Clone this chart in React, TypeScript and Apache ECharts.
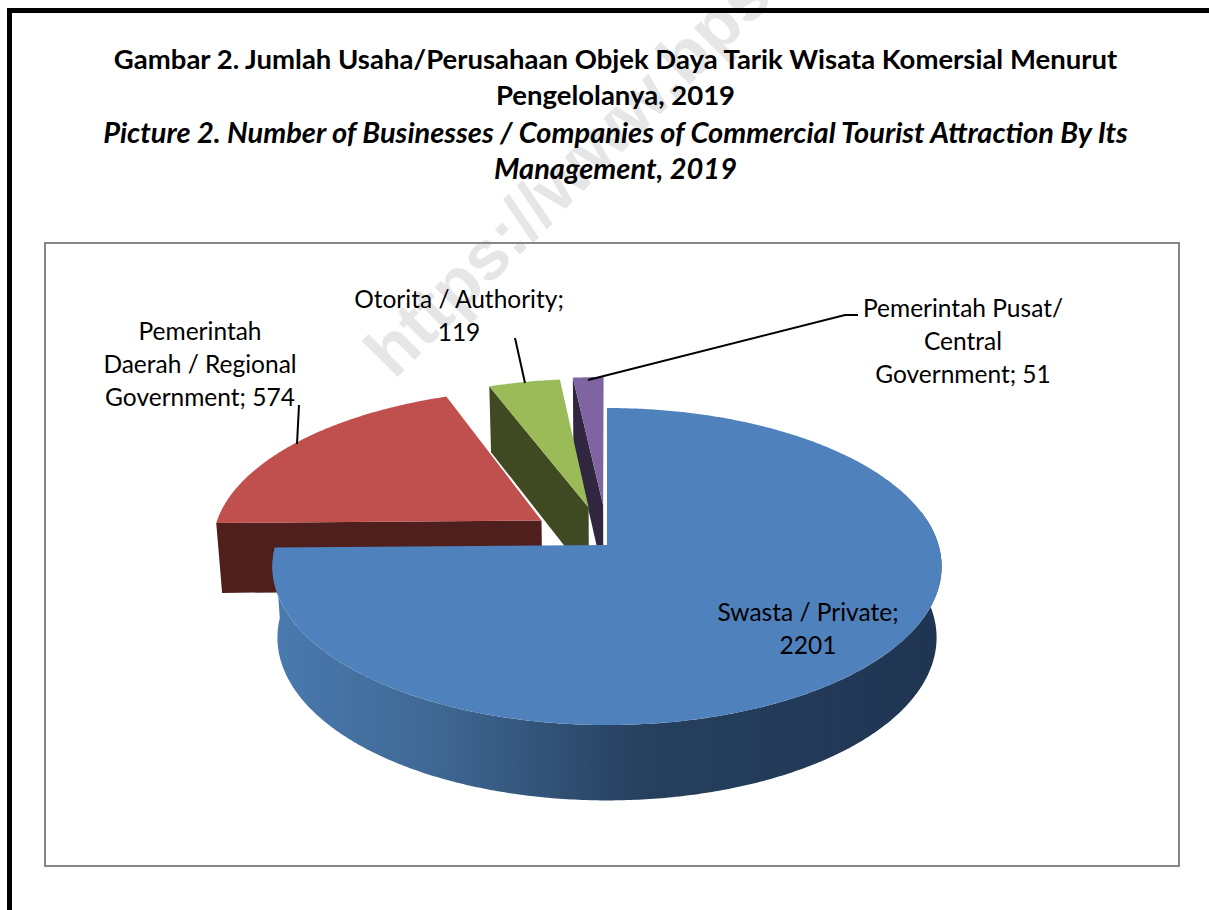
import React, { useEffect, useRef } from "react";
import * as echarts from "echarts";

const categories = ["Swasta / Private", "Pemerintah Daerah / Regional Government", "Otorita / Authority", "Pemerintah Pusat/ Central Government"];
const values = [2201, 574, 119, 51];
const labelTemplates = [
  "Swasta / Private;\n{v}",
  "Pemerintah\nDaerah / Regional\nGovernment; {v}",
  "Otorita / Authority;\n{v}",
  "Pemerintah Pusat/\nCentral\nGovernment; {v}",
];
const topColors = ["#4f81bd", "#c0504d", "#9bbb59", "#8064a2"];
const sideColors = ["#1f3552", "#4f1f1e", "#3f4a22", "#30263f"];
const explodeAmounts = [0, 0.258, 0.255, 0.265];
const explodeBearings = [0, 308.5, 347, 357.4];
const titleLines = [
  "Gambar 2. Jumlah Usaha/Perusahaan Objek Daya Tarik Wisata Komersial Menurut",
  "Pengelolanya, 2019",
  "Picture 2. Number of Businesses / Companies of Commercial Tourist Attraction By Its",
  "Management, 2019",
];
const titleTops = [44, 80, 117, 153];

// Perspective parameters of the tilted disc
const APEX_X = 607;
const APEX_Y = 545;
const RX = 331.5;
const RY = 155.6;
const PERSPECTIVE = 0.1357;
const DEPTH = 70.5;
const DEPTH_FALLOFF = 0.7;
const BASE_SCALE = 0.985;

// Where each label sits and how its leader line runs
const labelCentres = [
  { x: 808, y: 595 },
  { x: 200, y: 314 },
  { x: 459, y: 282 },
  { x: 963, y: 291 },
];
const leaderLines: number[][][] = [
  [],
  [[299, 405], [297, 444]],
  [[515, 338], [525, 383]],
  [[858, 315], [845, 315], [588, 380]],
];

const FONT = "Lato, Carlito, Calibri, sans-serif";
const LABEL_SIZE = 24.5;
const total = values.reduce((a, b) => a + b, 0);
const cumulative = values.map((_, i) => values.slice(0, i).reduce((a, b) => a + b, 0));
const toAngle = (v: number) => (v / total) * Math.PI * 2;

function project(theta: number, explode: number, bearing: number, base: boolean): number[] {
  const u = Math.sin(theta) + explode * Math.sin(bearing);
  const v = -Math.cos(theta) - explode * Math.cos(bearing);
  return projectPlane(u, v, base);
}

function projectPlane(u: number, v: number, base: boolean): number[] {
  const s = 1 / (1 - PERSPECTIVE * v);
  const k = base ? BASE_SCALE : 1;
  const drop = base ? DEPTH * Math.pow(s, DEPTH_FALLOFF) : 0;
  return [APEX_X + RX * u * s * k, APEX_Y + drop + RY * v * s * k];
}

function arc(from: number, to: number, explode: number, bearing: number, base: boolean): number[][] {
  const n = Math.max(2, Math.ceil(Math.abs(to - from) / 0.01));
  const out: number[][] = [];
  for (let i = 0; i <= n; i++) out.push(project(from + ((to - from) * i) / n, explode, bearing, base));
  return out;
}

function renderSlice(_params: any, api: any) {
  const i = api.value(0) as number;
  const start = toAngle(cumulative[i]);
  const end = toAngle(cumulative[i] + (api.value(1) as number));
  const b = (explodeBearings[i] * Math.PI) / 180;
  const e = explodeAmounts[i];
  const apexTop = projectPlane(e * Math.sin(b), -e * Math.cos(b), false);
  const apexBase = projectPlane(e * Math.sin(b), -e * Math.cos(b), true);
  const children: any[] = [];

  if (i === 0) {
    // Rim of the large front slice, lit from the left
    const from = 1.35;
    const rim = [...arc(from, end, 0, b, false), ...arc(end, from, 0, b, true)];
    children.push({
      type: "polygon",
      shape: { points: rim },
      style: {
        fill: new echarts.graphic.LinearGradient(0, 0, 1, 0, [
          { offset: 0, color: "#4a7ab0" },
          { offset: 0.25, color: "#3f6792" },
          { offset: 0.55, color: "#26405f" },
          { offset: 1, color: sideColors[0] },
        ]),
      },
    });
  } else {
    // Cut face along the slice's leading edge
    const edgeTop = project(start, e, b, false);
    const edgeBase = project(start, e, b, true);
    children.push({
      type: "polygon",
      shape: { points: [edgeTop, apexTop, apexBase, edgeBase] },
      style: { fill: sideColors[i] },
    });
  }

  children.push({
    type: "polygon",
    shape: { points: [apexTop, ...arc(start, end, e, b, false)] },
    style: { fill: topColors[i] },
  });

  return { type: "group", children };
}

function renderLabel(_params: any, api: any) {
  const i = api.value(0) as number;
  const children: any[] = [];
  if (leaderLines[i].length) {
    children.push({
      type: "polyline",
      shape: { points: leaderLines[i] },
      style: { stroke: "#000000", lineWidth: 2, fill: "none" },
    });
  }
  children.push({
    type: "text",
    x: labelCentres[i].x,
    y: labelCentres[i].y,
    style: {
      text: labelTemplates[i].replace("{v}", String(api.value(1))),
      align: "center",
      verticalAlign: "top",
      fontFamily: FONT,
      fontSize: LABEL_SIZE,
      lineHeight: 33,
      fill: "#000000",
    },
  });
  return { type: "group", children };
}

export default function App() {
  const ref = useRef<HTMLDivElement>(null);

  useEffect(() => {
    const chart = echarts.init(ref.current!, undefined, { renderer: "svg" });
    // Back slices are painted first so the front slice overlaps them
    const sliceData = values.map((v, i) => ({ name: categories[i], value: [i, v] })).reverse();

    chart.setOption({
      animation: false,
      backgroundColor: "#ffffff",
      title: titleLines.map((text, i) => ({
        text,
        left: 615.5,
        top: titleTops[i],
        textAlign: "center",
        padding: 0,
        textStyle: {
          fontFamily: FONT,
          fontSize: i >= 2 ? 29 : 27.5,
          fontWeight: "bold",
          fontStyle: i >= 2 ? "italic" : "normal",
          color: "#000000",
        },
      })),
      graphic: [
        {
          type: "group",
          x: 402,
          y: 388,
          rotation: Math.PI / 4,
          children: [
            {
              type: "text",
              style: {
                text: "https://www.bps.go.id",
                fontFamily: "Liberation Sans, Arial, sans-serif",
                fontWeight: "bold",
                fontSize: 70,
                fill: "#e6e6e6",
                align: "left",
                verticalAlign: "bottom",
              },
            },
          ],
        },
        { type: "rect", shape: { x: 7, y: 8, width: 1202, height: 5 }, style: { fill: "#000000" } },
        { type: "rect", shape: { x: 7, y: 8, width: 5, height: 902 }, style: { fill: "#000000" } },
        {
          type: "rect",
          shape: { x: 45, y: 243, width: 1134, height: 623 },
          style: { fill: "none", stroke: "#868686", lineWidth: 2 },
        },
      ],
      series: [
        {
          type: "custom",
          coordinateSystem: "none",
          renderItem: renderSlice,
          data: sliceData,
          silent: true,
        },
        {
          type: "custom",
          coordinateSystem: "none",
          renderItem: renderLabel,
          data: sliceData,
          silent: true,
        },
      ],
    });
    return () => chart.dispose();
  }, []);

  return <div ref={ref} style={{ position: "fixed", left: 0, top: 0, width: 1209, height: 910 }} />;
}
